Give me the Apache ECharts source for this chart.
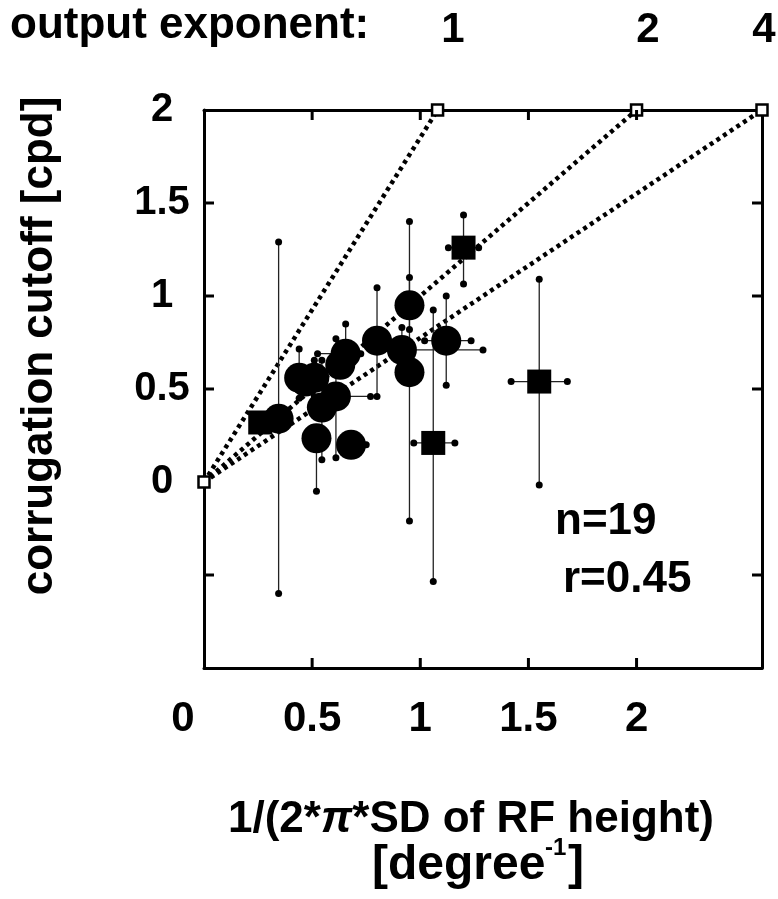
<!DOCTYPE html>
<html><head><meta charset="utf-8">
<script src="https://cdn.jsdelivr.net/npm/echarts@6/dist/echarts.min.js"></script>
<style>html,body{margin:0;padding:0;background:#fff}#c{width:778px;height:899px}</style>
</head><body><div id="c"></div>
<script>
// ---- data ----
// circles: x, y, error-bar extents (null = not visible)
const circX   = [0.345, 0.44, 0.47, 0.51, 0.545, 0.61, 0.63, 0.655, 0.52, 0.68, 0.80, 0.915, 0.95, 0.95, 1.12];
const circY   = [0.34, 0.56, 0.54, 0.56, 0.40, 0.46, 0.63, 0.69, 0.235, 0.20, 0.76, 0.71, 0.95, 0.59, 0.76];
const circXlo = [null, null, null, null, null, null, null, 0.525, null, null, null, null, null, null, 1.02];
const circXhi = [null, null, null, null, null, 0.77, null, 0.725, null, 0.75, null, 1.29, null, null, 1.235];
const circYlo = [-0.60, 0.45, null, 0.46, 0.12, 0.13, null, null, -0.05, null, 0.46, null, 0.82, -0.21, 0.52];
const circYhi = [1.29, 0.715, null, 0.655, 0.655, 0.77, null, 0.85, null, null, 1.045, 0.83, 1.40, 1.10, 1.0];
// squares
const sqX   = [0.26, 1.20, 1.06, 1.55];
const sqY   = [0.32, 1.26, 0.21, 0.54];
const sqXlo = [null, 1.13, 0.97, 1.42];
const sqXhi = [null, 1.27, 1.16, 1.68];
const sqYlo = [null, 1.065, -0.535, -0.016];
const sqYhi = [null, 1.435, 0.925, 1.09];
// output-exponent model lines: end points (start at origin)
const expLabels = ['1', '2', '4'];
const expEndX = [1.08, 2.0, 2.58];
const expEndY = [2, 2, 2];
const xTickMax = 2;   // last labelled x tick
const yTickMin = 0;   // first labelled y tick
const xTickVals = [0.5, 1, 1.5, 2];
const yTickVals = [-0.5, 0.5, 1, 1.5];
const statsText = ['n=19', 'r=0.45'];

// ---- build ----
const X_MIN = 0, X_MAX = 2.58, Y_MIN = -1, Y_MAX = 2;
const FONT = '"Liberation Sans", Arial, Helvetica, sans-serif';
const vBars = [], hBars = [], dots = [];
function addBars(X, Y, xlo, xhi, ylo, yhi) {
  for (let i = 0; i < X.length; i++) {
    if (ylo[i] !== null || yhi[i] !== null) {
      const lo = ylo[i] !== null ? ylo[i] : Y[i];
      const hi = yhi[i] !== null ? yhi[i] : Y[i];
      vBars.push([X[i], lo, hi]);
      if (ylo[i] !== null) dots.push([X[i], ylo[i]]);
      if (yhi[i] !== null) dots.push([X[i], yhi[i]]);
    }
    if (xlo[i] !== null || xhi[i] !== null) {
      const lo = xlo[i] !== null ? xlo[i] : X[i];
      const hi = xhi[i] !== null ? xhi[i] : X[i];
      hBars.push([lo, hi, Y[i]]);
      if (xlo[i] !== null) dots.push([xlo[i], Y[i]]);
      if (xhi[i] !== null) dots.push([xhi[i], Y[i]]);
    }
  }
}
addBars(circX, circY, circXlo, circXhi, circYlo, circYhi);
addBars(sqX, sqY, sqXlo, sqXhi, sqYlo, sqYhi);

const series = [];
expEndX.forEach((ex, i) => {
  series.push({
    type: 'line', data: [[0, 0], [ex, expEndY[i]]], showSymbol: false, z: 1, clip: false,
    lineStyle: { color: '#000', width: 4.5, type: [4, 4], cap: 'butt', opacity: 1 }, silent: true
  });
});
series.push({
  type: 'custom', z: 2, clip: false, data: vBars,
  renderItem: (p, api) => {
    const a = api.coord([api.value(0), api.value(1)]);
    const b = api.coord([api.value(0), api.value(2)]);
    return { type: 'line', shape: { x1: a[0], y1: a[1], x2: b[0], y2: b[1] }, style: { stroke: '#222', lineWidth: 1.3 } };
  }
});
series.push({
  type: 'custom', z: 2, clip: false, data: hBars,
  renderItem: (p, api) => {
    const a = api.coord([api.value(0), api.value(2)]);
    const b = api.coord([api.value(1), api.value(2)]);
    return { type: 'line', shape: { x1: a[0], y1: a[1], x2: b[0], y2: b[1] }, style: { stroke: '#222', lineWidth: 1.3 } };
  }
});
series.push({ type: 'scatter', z: 3, data: dots, symbol: 'circle', symbolSize: 7, itemStyle: { color: '#000', opacity: 1 } });
series.push({ type: 'scatter', z: 4, data: circX.map((x, i) => [x, circY[i]]), symbol: 'circle', symbolSize: 30, itemStyle: { color: '#000', opacity: 1 } });
series.push({ type: 'scatter', z: 4, data: sqX.map((x, i) => [x, sqY[i]]), symbol: 'rect', symbolSize: 24, itemStyle: { color: '#000', opacity: 1 } });
series.push({
  type: 'scatter', z: 5, clip: false,
  data: [[0, 0]].concat(expEndX.map((x, i) => [x, expEndY[i]])),
  symbol: 'rect', symbolSize: 11, itemStyle: { color: '#fff', borderColor: '#000', borderWidth: 2.5, opacity: 1 }
});
// inward tick marks on all four sides of the box, positioned by the axes' scales
const TICK = 10;
series.push({
  type: 'custom', z: 6, clip: false, silent: true,
  data: xTickVals.map(v => [v, 0]).concat(yTickVals.map(v => [v, 1])),
  encode: { x: -1, y: -1 },
  renderItem: (p, api) => {
    const v = api.value(0), k = api.value(1);
    const st = { stroke: '#000', lineWidth: 3 };
    if (k === 0) {
      const a = api.coord([v, Y_MIN]), b = api.coord([v, Y_MAX]);
      return { type: 'group', children: [
        { type: 'line', shape: { x1: a[0], y1: a[1], x2: a[0], y2: a[1] - TICK }, style: st },
        { type: 'line', shape: { x1: b[0], y1: b[1], x2: b[0], y2: b[1] + TICK }, style: st } ] };
    }
    const a = api.coord([X_MIN, v]), b = api.coord([X_MAX, v]);
    return { type: 'group', children: [
      { type: 'line', shape: { x1: a[0], y1: a[1], x2: a[0] + TICK, y2: a[1] }, style: st },
      { type: 'line', shape: { x1: b[0], y1: b[1], x2: b[0] - TICK, y2: b[1] }, style: st } ] };
  }
});

const chart = echarts.init(document.getElementById('c'), null, { renderer: 'canvas' });
const labelStyle = { color: '#000', fontFamily: FONT, fontWeight: 'bold', fontSize: 40 };
const graphics = [
  { type: 'text', left: 10, top: 4, style: Object.assign({ text: 'output exponent:' }, labelStyle, { fontSize: 44 }) },
  { type: 'text', left: 555, top: 500, style: Object.assign({ text: statsText[0] }, labelStyle, { fontSize: 44 }) },
  { type: 'text', left: 563, top: 558, style: Object.assign({ text: statsText[1] }, labelStyle, { fontSize: 44 }) },
  { type: 'text', x: 40, y: 346, rotation: Math.PI / 2, style: Object.assign({ text: 'corrugation cutoff [cpd]', align: 'center', verticalAlign: 'middle' }, labelStyle, { fontSize: 44 }) },
  { type: 'text', x: 471, y: 820, style: { text: '{a|1/(2*}{i|π}{a|*SD of RF height)}', align: 'center', verticalAlign: 'middle',
      rich: { a: Object.assign({}, labelStyle, { fontSize: 44 }), i: Object.assign({}, labelStyle, { fontSize: 44, fontStyle: 'italic' }) } } },
  { type: 'text', x: 372, y: 866, style: Object.assign({ text: '[degree', align: 'left', verticalAlign: 'middle' }, labelStyle, { fontSize: 48 }) },
  { type: 'text', x: 545, y: 860, style: Object.assign({ text: '-1', align: 'left', verticalAlign: 'bottom' }, labelStyle, { fontSize: 24 }) },
  { type: 'text', x: 568, y: 866, style: Object.assign({ text: ']', align: 'left', verticalAlign: 'middle' }, labelStyle, { fontSize: 48 }) }
];
const expLabelX = [453, 648, 764];
expLabels.forEach((t, i) => graphics.push({ type: 'text', x: expLabelX[i], y: 30, style: Object.assign({ text: t, align: 'center', verticalAlign: 'middle' }, labelStyle, { fontSize: 42 }) }));

const lineStyle = { show: true, onZero: false, lineStyle: { color: '#000', width: 3 } };
chart.setOption({
  animation: false,
  backgroundColor: '#fff',
  grid: { left: 204, top: 110, width: 558, height: 558, show: false },
  xAxis: [
    { type: 'value', min: X_MIN, max: X_MAX, interval: 0.5, position: 'bottom', splitLine: { show: false },
      axisLine: lineStyle, axisTick: { show: false },
      axisLabel: { margin: 30, formatter: v => v > xTickMax ? '' : (v === 0 ? '{z|0}' : String(v)),
        color: '#000', fontFamily: FONT, fontWeight: 'bold', fontSize: 42, showMaxLabel: false,
        rich: { z: { color: '#000', fontFamily: FONT, fontWeight: 'bold', fontSize: 42, padding: [0, 42, 0, 0] } } } },
    { type: 'value', min: X_MIN, max: X_MAX, interval: 0.5, position: 'top', splitLine: { show: false },
      axisLine: lineStyle, axisLabel: { show: false }, axisTick: { show: false } }
  ],
  yAxis: [
    { type: 'value', min: Y_MIN, max: Y_MAX, interval: 0.5, position: 'left', splitLine: { show: false },
      axisLine: lineStyle, axisTick: { show: false },
      axisLabel: { margin: 42, align: 'center', formatter: v => v < yTickMin ? '' : String(v),
        color: '#000', fontFamily: FONT, fontWeight: 'bold', fontSize: 40 } },
    { type: 'value', min: Y_MIN, max: Y_MAX, interval: 0.5, position: 'right', splitLine: { show: false },
      axisLine: lineStyle, axisLabel: { show: false }, axisTick: { show: false } }
  ],
  series: series,
  graphic: graphics
});
</script></body></html>
